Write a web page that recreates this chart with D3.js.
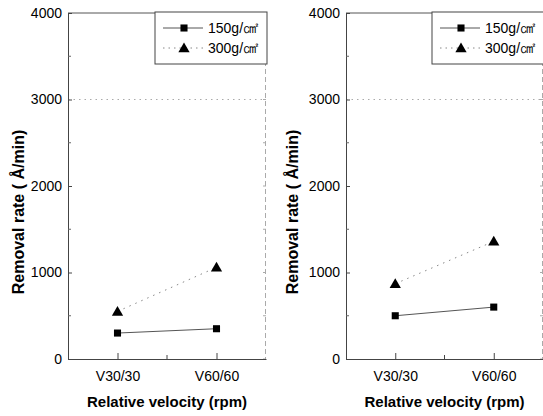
<!DOCTYPE html>
<html>
<head>
<meta charset="utf-8">
<script src="https://cdn.jsdelivr.net/npm/d3@7"></script>
<style>
  body { margin: 0; background: #fff; }
  text { font-family: "Liberation Sans", Arial, sans-serif; fill: #000; }
</style>
</head>
<body>
<svg id="chart"></svg>
<script>
// Chart data
const categories = ["V30/30", "V60/60"];
const seriesNames = ["150g/", "300g/"];
const unitLabel = "㎠";
const yTicks = [0, 1000, 2000, 3000, 4000];
const yMinorTicks = [500, 1500, 2500, 3500];
const leftLow = [300, 350];     // 150g/cm2, left panel
const leftHigh = [550, 1060];   // 300g/cm2, left panel
const rightLow = [500, 600];    // 150g/cm2, right panel
const rightHigh = [870, 1360];  // 300g/cm2, right panel

const width = 543, height = 416;

const svg = d3.select("#chart")
    .attr("width", width)
    .attr("height", height);

svg.append("rect").attr("width", width).attr("height", height).attr("fill", "#fff");

// Draw one panel
function drawPanel(left, right, lowVals, highVals, titleX) {
    const top = 13, bottom = 359;

    const x = d3.scalePoint()
        .domain(categories)
        .range([left, right])
        .padding(0.5);

    const y = d3.scaleLinear()
        .domain([0, 4000])
        .range([bottom, top]);

    const g = svg.append("g");

    // dotted gridline at 3000
    g.append("line")
        .attr("x1", left).attr("x2", right)
        .attr("y1", y(3000)).attr("y2", y(3000))
        .attr("stroke", "#aaa")
        .attr("stroke-dasharray", "1.5,4");

    // frame top and right
    g.append("line")
        .attr("x1", left).attr("x2", right)
        .attr("y1", top).attr("y2", top)
        .attr("stroke", "#555");
    g.append("line")
        .attr("x1", right - 0.5).attr("x2", right - 0.5)
        .attr("y1", top).attr("y2", bottom)
        .attr("stroke", "#aaa")
        .attr("stroke-dasharray", "5,3");

    // left axis
    const yAxis = g.append("g")
        .attr("transform", "translate(" + left + ",0)")
        .call(d3.axisLeft(y).tickValues(yTicks).tickSizeInner(-4).tickSizeOuter(0).tickPadding(6).tickFormat(d3.format("d")));
    yAxis.select(".domain").attr("stroke", "#444");
    yAxis.selectAll(".tick line").attr("stroke", "#444");
    yAxis.selectAll("text").style("font-size", "14px").attr("fill", "#000");

    g.selectAll(".yminor")
        .data(yMinorTicks)
        .enter().append("line")
        .attr("x1", left).attr("x2", left + 3)
        .attr("y1", d => y(d)).attr("y2", d => y(d))
        .attr("stroke", "#666");

    // right side ticks
    g.selectAll(".yright")
        .data(yTicks.concat(yMinorTicks))
        .enter().append("line")
        .attr("x1", right - 3).attr("x2", right)
        .attr("y1", d => y(d)).attr("y2", d => y(d))
        .attr("stroke", "#aaa");

    // bottom axis
    const xAxis = g.append("g")
        .attr("transform", "translate(0," + bottom + ")")
        .call(d3.axisBottom(x).tickSizeInner(-6).tickSizeOuter(0).tickPadding(12));
    xAxis.select(".domain").attr("stroke", "#444");
    xAxis.selectAll(".tick line").attr("stroke", "#444");
    xAxis.selectAll("text").style("font-size", "14px").attr("fill", "#000");

    // minor tick between categories
    const mid = (x(categories[0]) + x(categories[1])) / 2;
    g.append("line")
        .attr("x1", mid).attr("x2", mid)
        .attr("y1", bottom).attr("y2", bottom - 4)
        .attr("stroke", "#444");

    // series lines
    const line = d3.line()
        .x((d, i) => x(categories[i]))
        .y(d => y(d));

    g.append("path")
        .datum(lowVals)
        .attr("d", line)
        .attr("fill", "none")
        .attr("stroke", "#555")
        .attr("stroke-width", 1);

    g.append("path")
        .datum(highVals)
        .attr("d", line)
        .attr("fill", "none")
        .attr("stroke", "#888")
        .attr("stroke-width", 1)
        .attr("stroke-dasharray", "1.5,5");

    // markers
    g.selectAll(".sq")
        .data(lowVals)
        .enter().append("path")
        .attr("d", d3.symbol().type(d3.symbolSquare).size(50))
        .attr("transform", (d, i) => "translate(" + x(categories[i]) + "," + y(d) + ")")
        .attr("fill", "#000");

    g.selectAll(".tri")
        .data(highVals)
        .enter().append("path")
        .attr("d", d3.symbol().type(d3.symbolTriangle).size(55))
        .attr("transform", (d, i) => "translate(" + x(categories[i]) + "," + (y(d) + 1) + ")")
        .attr("fill", "#000");

    // legend
    const legW = 112, legH = 52;
    const leg = g.append("g")
        .attr("transform", "translate(" + (right - legW + 1) + "," + (top - 1) + ")");
    leg.append("rect")
        .attr("width", legW).attr("height", legH)
        .attr("fill", "#fff")
        .attr("stroke", "#444");

    const entries = [
        { name: seriesNames[0], symbol: d3.symbolSquare, dash: null, color: "#555" },
        { name: seriesNames[1], symbol: d3.symbolTriangle, dash: "1.5,4", color: "#888" }
    ];
    entries.forEach((e, i) => {
        const ly = 16 + i * 20;
        leg.append("line")
            .attr("x1", 8).attr("x2", 48)
            .attr("y1", ly).attr("y2", ly)
            .attr("stroke", e.color)
            .attr("stroke-dasharray", e.dash);
        leg.append("path")
            .attr("d", d3.symbol().type(e.symbol).size(e.symbol === d3.symbolSquare ? 50 : 55))
            .attr("transform", "translate(29," + (ly + (i ? 1 : 0)) + ")")
            .attr("fill", "#000");
        const t = leg.append("text")
            .attr("x", 53).attr("y", ly + 5)
            .style("font-size", "14px")
            .text(e.name);
        t.append("tspan")
            .style("font-size", "16px")
            .text(unitLabel);
    });

    // axis titles
    g.append("text")
        .attr("x", (left + right) / 2)
        .attr("y", 407)
        .attr("text-anchor", "middle")
        .style("font-size", "15px")
        .style("font-weight", "bold")
        .text("Relative velocity (rpm)");

    g.append("text")
        .attr("transform", "translate(" + titleX + ",212) rotate(-90)")
        .attr("text-anchor", "middle")
        .attr("dy", "0.35em")
        .style("font-size", "16px")
        .style("font-weight", "bold")
        .text("Removal rate ( Å/min)");
}

drawPanel(68, 266, leftLow, leftHigh, 18);
drawPanel(346, 543, rightLow, rightHigh, 292);
</script>
</body>
</html>
